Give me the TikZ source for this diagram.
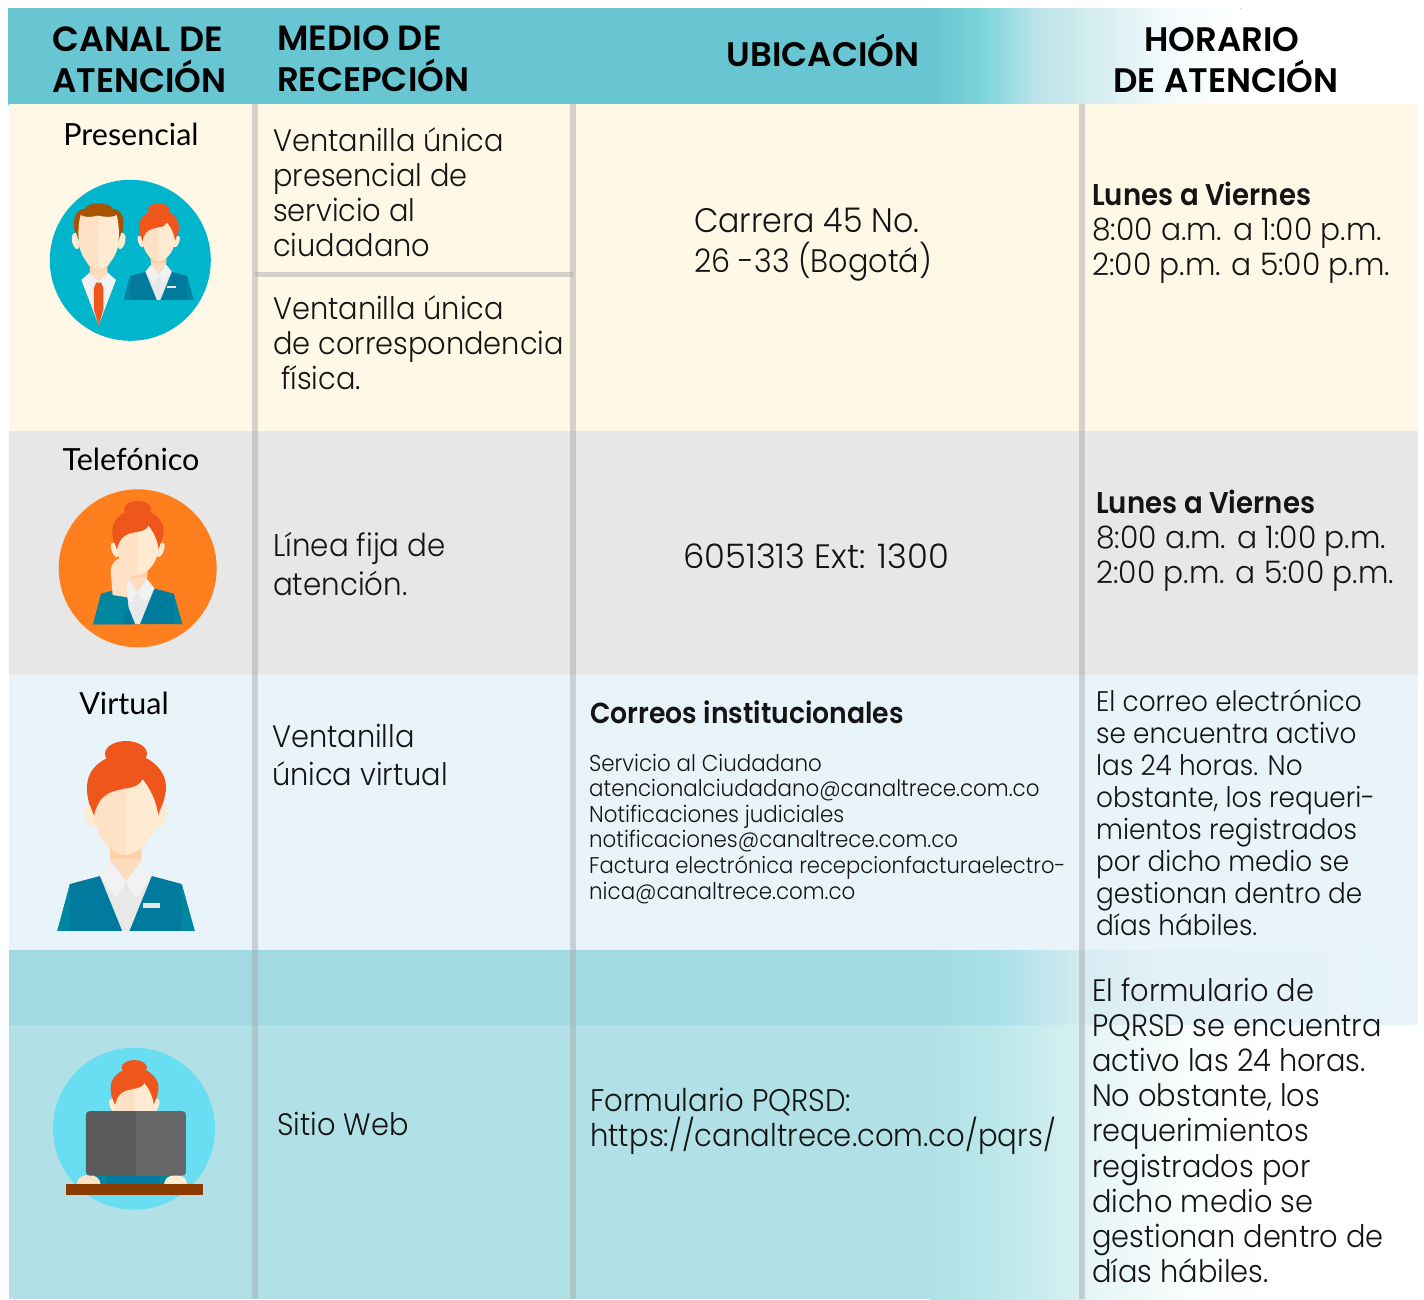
\documentclass[tikz,border=0pt]{standalone}
\usepackage{fontspec}
\setmainfont{Poppins Light}[FakeStretch=0.93,BoldFont=Poppins SemiBold,BoldFeatures={FakeStretch=0.92}]
\newfontfamily\headfont{Poppins SemiBold}
\newfontfamily\widefont{Poppins Light}
\newfontfamily\timefont{Poppins Light}[FakeStretch=0.96]
\newfontfamily\labelfont{Lato}
\definecolor{cream}{HTML}{FFF8E6}
\definecolor{rowgray}{HTML}{E7E7E7}
\definecolor{rowblue}{HTML}{E8F3FA}
\definecolor{sep}{HTML}{A7A7A7}
\definecolor{hairred}{HTML}{EE561B}
\definecolor{hairbrown}{HTML}{A85300}
\definecolor{skinA}{HTML}{FFE2C6}
\definecolor{skinB}{HTML}{FFEAD2}
\definecolor{skinC}{HTML}{FFCFA8}
\definecolor{jacket}{HTML}{007B9E}
\definecolor{jacketB}{HTML}{00879F}
\definecolor{shirtA}{HTML}{E8E8E8}
\definecolor{shirtB}{HTML}{F2F2F2}
\newcommand{\gradseg}[6]{\definecolor{gradL}{HTML}{#5}\definecolor{gradR}{HTML}{#6}\begin{scope}\clip (#1,#3) rectangle (#2+0.5,#4);\fill[left color=gradL,right color=gradR] (#1,#3) rectangle (#2+0.5,#4);\end{scope}}
\newcommand{\cellrows}[1]{\vtop{\lineskiplimit=-100pt \tabskip=0pt \let\\\cr \halign{##\hfil\cr #1\crcr}}}
\newcommand{\fs}[2]{\fontsize{#1}{#2}\selectfont}
\newcommand{\womanfig}[3]{%
\begin{scope}[shift={(#1,#2)},x=#3pt,y=-#3pt]
\begin{scope}[shift={(-258,-33)}]
\fill[hairred] (258,71) ellipse [x radius=63,y radius=38];
\fill[hairred] (162,258) .. controls (145,225) and (140,190) .. (141,170) .. controls (142,125) and (170,100) .. (200,85) -- (320,85) .. controls (348,100) and (378,130) .. (378,170) .. controls (378,200) and (365,230) .. (355,258) -- cycle;
\fill[skinB] (150,226) .. controls (128,220) and (130,245) .. (140,270) .. controls (150,295) and (170,300) .. (170,280) -- cycle;
\fill[skinB] (366,226) .. controls (388,220) and (386,245) .. (376,270) .. controls (366,295) and (346,300) .. (346,280) -- cycle;
\fill[skinA!70!skinC] (210,340) rectangle (303,440);
\fill[skinC] (208,345) .. controls (225,380) and (290,380) .. (305,345) -- (303,385) .. controls (280,395) and (235,395) .. (212,385) -- cycle;
\fill[jacket] (52,603) -- (90,462) -- (180,438) -- (335,438) -- (425,462) -- (464,603) -- cycle;
\fill[jacketB] (52,603) -- (90,462) -- (90,603) -- cycle;
\fill[jacketB] (464,603) -- (425,462) -- (425,603) -- cycle;
\fill[shirtA] (180,438) -- (212,397) -- (303,397) -- (335,438) -- (268,603) -- (247,603) -- cycle;
\fill[skinA!70!skinC] (212,385) -- (258,455) -- (303,385) -- cycle;
\fill[shirtB] (180,438) -- (212,397) -- (258,455) -- (228,505) -- cycle;
\fill[shirtB] (335,438) -- (303,397) -- (258,455) -- (288,505) -- cycle;
\fill[shirtA] (309,519) rectangle (360,534);
\fill[skinB] (250,177) .. controls (285,172) and (300,165) .. (308,148) .. controls (330,175) and (350,215) .. (355,258) .. controls (345,320) and (305,375) .. (250,375) -- cycle;
\fill[skinA] (258,175) .. controls (225,185) and (180,180) .. (162,258) .. controls (170,320) and (210,375) .. (258,375) -- cycle;
\end{scope}
\end{scope}}
\begin{document}
\begin{tikzpicture}[x=1pt,y=-1pt,
  sepline/.style={fill=sep,fill opacity=0.47},
  bodytext/.style={inner sep=0pt,anchor=base west,text=black!92},
  headtext/.style={inner sep=0pt,anchor=base west,text=black,font=\headfont\fs{34}{41}},
  headmid/.style={inner sep=0pt,anchor=base,text=black,font=\headfont\fs{34}{41}},
  channel/.style={inner sep=0pt,anchor=base,text=black,font=\labelfont\fs{30.5}{36}}]
\useasboundingbox (0,0) rectangle (1424,1299);
\fill[white] (0,0) rectangle (1424,1299);
% header
\fill[fill={rgb,255:red,104;green,197;blue,210}] (8,8) rectangle (930,104.5);
\gradseg{930}{985}{8}{104.5}{68C5D2}{7DD6DC}
\gradseg{985}{1033}{8}{104.5}{7DD6DC}{B8E2E8}
\gradseg{1033}{1083}{8}{104.5}{B8E2E8}{D0EBEE}
\gradseg{1083}{1167}{8}{104.5}{D0EBEE}{F3FAFC}
\gradseg{1167}{1240}{8}{104.5}{F3FAFC}{FFFFFF}
\fill[white] (0,0) rectangle (1424,8);
% rows
\fill[cream] (8.5,104) rectangle (1418,431);
\fill[rowgray] (8.5,431) rectangle (1418,675);
\fill[rowblue] (8.5,675) rectangle (1418,950);
% band
\fill[fill={rgb,255:red,163;green,217;blue,227}] (8.5,950) rectangle (930,1025);
\gradseg{930}{1000}{950}{1025}{A3D9E3}{A9E0EA}
\gradseg{1000}{1040}{950}{1025}{A9E0EA}{C0E5EC}
\gradseg{1040}{1085}{950}{1025}{C0E5EC}{D6EBF2}
\gradseg{1085}{1170}{950}{1025}{D9ECF3}{E4F1F8}
\gradseg{1170}{1418}{950}{1025}{E4F1F8}{E8F3FA}
\fill[white] (1418,940) rectangle (1424,1040);
% bottom row
\fill[white] (1085,1025) rectangle (1424,1299);
\fill[fill={rgb,255:red,177;green,225;blue,230}] (8.5,1025) rectangle (930,1299);
\gradseg{930}{1000}{1025}{1299}{B1E1E6}{BCE8EB}
\gradseg{1000}{1083}{1025}{1299}{BCE8EB}{D8F0F2}
\gradseg{1083}{1200}{1025}{1299}{E4F4F5}{FBFEFE}
\gradseg{1200}{1290}{1025}{1299}{FBFEFE}{FFFFFF}
% separators
\fill[sepline] (252,104) rectangle (258,1299);
\fill[sepline] (570,104) rectangle (576,1299);
\fill[sepline] (1079,104) rectangle (1085,1299);
\fill[sepline] (255,272) rectangle (573,277);
% presencial icon
\fill[fill={rgb,255:red,0;green,181;blue,204}] (130.3,260.3) circle (80.5);
\begin{scope}[shift={(0,100)},x=0.3333pt,y=-0.3333pt]
\fill[hairbrown] (238,418) -- (225,398) .. controls (216,350) and (228,330) .. (255,326) .. controls (262,305) and (328,305) .. (338,326) .. controls (364,330) and (376,350) .. (367,398) -- (355,418) -- cycle;
\fill[skinB] (228,398) .. controls (212,395) and (212,425) .. (222,440) .. controls (232,455) and (240,445) .. (238,430) -- cycle;
\fill[skinB] (364,398) .. controls (380,395) and (380,425) .. (370,440) .. controls (360,455) and (352,445) .. (354,430) -- cycle;
\fill[shirtB] (244,540) -- (270,517) -- (322,517) -- (348,540) -- (296,675) -- cycle;
\fill[shirtA] (296,675) -- (275,560) -- (317,560) -- cycle;
\fill[skinC] (270,490) rectangle (322,525);
\fill[skinA!70!skinC] (270,517) -- (296,545) -- (322,517) -- (322,500) -- (270,500) -- cycle;
\fill[skinC] (262,490) .. controls (280,520) and (312,520) .. (330,490) -- cycle;
\fill[skinB] (290,347) .. controls (322,352) and (342,352) .. (350,345) .. controls (358,375) and (358,410) .. (354,440) .. controls (344,480) and (317,510) .. (290,510) -- cycle;
\fill[skinA] (296,347) .. controls (270,352) and (250,352) .. (242,345) .. controls (234,375) and (234,410) .. (238,440) .. controls (248,480) and (275,510) .. (296,510) -- cycle;
\fill[hairred] (282,565) -- (288,548) -- (304,548) -- (310,565) -- (310,630) -- (296,675) -- (282,630) -- cycle;
\end{scope}
\womanfig{158.7}{203.3}{0.1693}
% telefonico icon
\fill[fill={rgb,255:red,255;green,127;blue,30}] (137.7,568.3) circle (79);
\womanfig{137.7}{501}{0.216}
\begin{scope}[shift={(30,480)},x=0.3333pt,y=-0.3333pt]
\fill[jacket] (353,372) rectangle (395,395);
\fill[jacketB] (190,433) -- (213,342) -- (250,332) -- (292,352) -- (296,385) -- (275,433) -- cycle;
\fill[jacket] (275,433) -- (296,385) -- (312,433) -- cycle;
\fill[skinA] (248,345) -- (242,270) .. controls (245,250) and (258,235) .. (272,236) .. controls (285,245) and (305,272) .. (322,283) .. controls (310,288) and (300,285) .. (290,300) -- (293,352) -- cycle;
\end{scope}
% virtual icon
\womanfig{126}{741}{0.3333}
% web icon
\fill[fill={rgb,255:red,105;green,221;blue,242}] (134,1128.7) circle (81);
\womanfig{134.3}{1060}{0.2017}
\begin{scope}[shift={(40,1040)},x=0.3333pt,y=-0.3333pt]
\fill[jacket] (165,400) rectangle (395,433);
\fill[jacketB] (165,400) rectangle (200,433);
\fill[jacketB] (360,400) rectangle (395,433);
\fill[skinA] (110,433) .. controls (112,395) and (180,395) .. (182,433) -- cycle;
\fill[skinB] (372,433) .. controls (374,395) and (440,395) .. (442,433) -- cycle;
\fill[fill={rgb,255:red,103;green,103;blue,103}] (280,213) -- (426,213) .. controls (434,213) and (438,217) .. (438,225) -- (438,395) .. controls (438,403) and (434,407) .. (426,407) -- (280,407) -- cycle;
\fill[fill={rgb,255:red,90;green,90;blue,90}] (288,213) -- (150,213) .. controls (142,213) and (138,217) .. (138,225) -- (138,395) .. controls (138,403) and (142,407) .. (150,407) -- (288,407) -- cycle;
\fill[fill={rgb,255:red,139;green,58;blue,0}] (78,432) rectangle (489,465);
\end{scope}
% header text
\node[headtext] (hCanal) at (52,51) {\cellrows{{\fontsize{35}{41}\selectfont CANAL DE}\\ATENCIÓN}};
\node[headtext] (hMedio) at (277,50) {\cellrows{{\fontsize{35}{41}\selectfont MEDIO DE}\\RECEPCIÓN}};
\node[headmid] (hUbic) at (823,66) {UBICACIÓN};
\node[headmid] (hHor) at (1222,51) {HORARIO};
\node[headmid] (hDe) at (1226,92) {DE ATENCIÓN};
% channel labels
\node[channel] (cPres) at (131,145) {Presencial};
\node[channel] (cTel) at (131,470) {Telefónico};
\node[channel] (cVirt) at (124,714) {Virtual};
% medio
\node[bodytext,font=\fs{31}{35}] (m1) at (273,151) {\cellrows{Ventanilla única\\presencial de\\servicio al\\ciudadano}};
\node[bodytext,font=\fs{31}{35.3}] (m2) at (273,319) {\cellrows{Ventanilla única\\de correspondencia\\\ física.}};
\node[bodytext,font=\fs{31.5}{39}] (m3) at (273,556) {\cellrows{Línea fija de\\atención.}};
\node[bodytext,font=\fs{31}{38}] (m4) at (272,747) {\cellrows{Ventanilla\\única virtual}};
\node[bodytext,font=\fs{31}{35}] (m5) at (277,1135) {Sitio Web};
% ubicacion
\node[bodytext,font=\fs{34}{40}] (u1) at (694,232) {\cellrows{Carrera 45 No.\\{\fontsize{32.5}{40}\selectfont 26 -33 (Bogotá)}}};
\node[bodytext,font=\widefont\fs{33.8}{40}] (u2) at (683,568) {6051313 Ext: 1300};
\node[bodytext,font=\bfseries\fs{29}{32}] (u3) at (590,723) {Correos institucionales};
\node[bodytext,font=\fs{23}{25.6}] (u4) at (589,771) {\cellrows{Servicio al Ciudadano\\atencionalciudadano@canaltrece.com.co\\Notificaciones judiciales\\notificaciones@canaltrece.com.co\\{\fontsize{22.7}{25.6}\selectfont Factura electrónica recepcionfacturaelectro-}\\nica@canaltrece.com.co}};
\node[bodytext,font=\fs{31.3}{35}] (u5) at (590,1111) {\cellrows{Formulario PQRSD:\\https://canaltrece.com.co/pqrs/}};
% horario
\node[bodytext,font=\fs{31}{35}] (h1) at (1092,205) {\cellrows{{\bfseries\fontsize{30}{35}\selectfont Lunes a Viernes}\\{\timefont 8:00 a.m. a 1:00 p.m.}\\{\timefont 2:00 p.m. a 5:00 p.m.}}};
\node[bodytext,font=\fs{31}{35}] (h2) at (1096,513) {\cellrows{{\bfseries\fontsize{30}{35}\selectfont Lunes a Viernes}\\{\timefont 8:00 a.m. a 1:00 p.m.}\\{\timefont 2:00 p.m. a 5:00 p.m.}}};
\node[bodytext,font=\fs{28.3}{32}] (h3) at (1096,711) {\cellrows{El correo electrónico\\se encuentra activo\\las 24 horas. No\\obstante, los requeri-\\mientos registrados\\por dicho medio se\\gestionan dentro de\\días hábiles.}};
\node[bodytext,font=\fs{31}{35.2}] (h4) at (1092,1001) {\cellrows{El formulario de\\PQRSD se encuentra\\activo las 24 horas.\\No obstante, los\\requerimientos\\registrados por\\dicho medio se\\gestionan dentro de\\días hábiles.}};
\end{tikzpicture}
\end{document}
